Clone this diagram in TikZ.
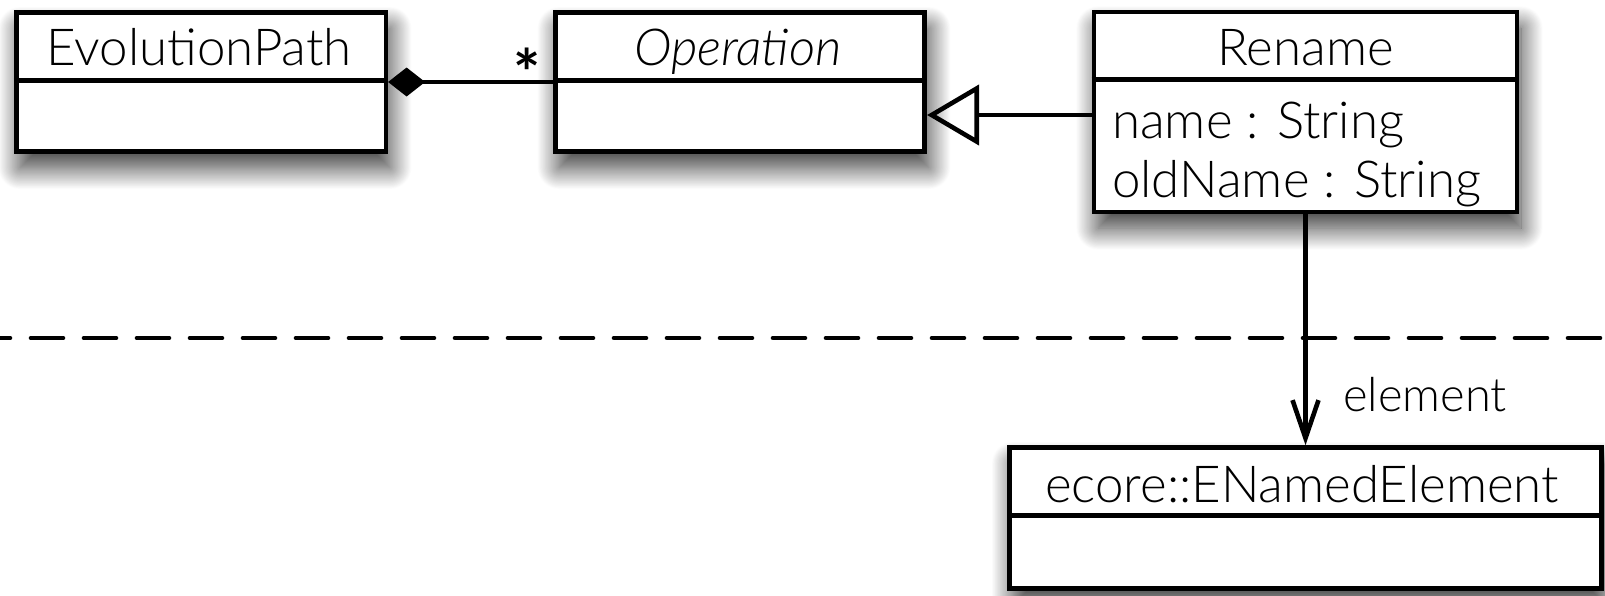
\documentclass[tikz,border=0pt]{standalone}
\usepackage{fontspec}
\IfFontExistsTF{Lato Light}
  {\setmainfont{Lato}[UprightFont={* Light}, ItalicFont={* Light Italic}, BoldFont={* Bold}]}
  {\setmainfont{Lato}}
\usetikzlibrary{arrows.meta,shadows.blur}

\begin{document}
\begin{tikzpicture}[x=1pt,y=-1pt,
  txt/.style={font=\fontsize{51}{60}\selectfont, inner sep=0pt},
  role/.style={font=\fontsize{47}{56}\selectfont, inner sep=0pt},
  cls/.style={draw, line width=4.6pt, fill=white, inner sep=0pt,
    blur shadow={shadow xshift=4pt, shadow yshift=-16pt,
                 shadow blur radius=22pt, shadow blur steps=40,
                 shadow opacity=80}},
  rule/.style={line width=4.6pt},
  conn/.style={line width=4.6pt},
  sep/.style={line width=4.6pt, line cap=round, dash pattern=on 32pt off 21pt, dash phase=22pt}
]
\useasboundingbox (0,0) rectangle (1605,595);

% class boxes
\node[cls, minimum width=369.6pt, minimum height=139pt] (evo) at (201,82) {};
\node[cls, minimum width=369.5pt, minimum height=139pt] (op) at (740,82) {};
\node[cls, minimum width=423pt, minimum height=200pt] (ren) at (1305.5,112) {};
\node[cls, minimum width=592pt, minimum height=141pt] (ecore) at (1305.5,518) {};

% compartment dividers
\foreach \c in {evo,op,ren,ecore}
  \draw[rule] ([yshift=-70pt]\c.north west) -- ([yshift=-70pt]\c.north east);

% class names and attributes
\node[txt, anchor=base] (evoname) at (199,65) {EvolutionPath};
\node[txt, anchor=base] (opname) at (738,65) {\itshape Operation};
\node[txt, anchor=base] (renname) at (1305.5,65) {Rename};
\node[txt, anchor=base west] (attr1) at (1112,138) {name : String};
\node[txt, anchor=base west] (attr2) at (1112,197) {oldName : String};
\node[txt, anchor=base] (ecorename) at (1302,502) {ecore::ENamedElement};

% composition
\draw[conn, {Diamond[length=37pt, width=29pt]}-] (evo.east) -- (op.west);
\node[font=\bfseries\fontsize{64}{70}\selectfont, inner sep=0pt, anchor=base] (mult) at (527,96) {*};

% generalization
\draw[conn, -{Triangle[open, length=52pt, width=60pt]}]
  ([yshift=-3pt]ren.west) -- ([yshift=-3pt]ren.west -| op.east);

% navigable reference
\draw[conn, -{Straight Barb[length=38pt, width=26pt]}] (ren.south) -- (ecore.north);
\node[role, anchor=base] (rolename) at (1425,411) {element};

% package boundary
\coordinate (sepL) at (0,338);
\coordinate (sepR) at (1605,338);
\draw[sep] (sepL) -- (sepR);
\end{tikzpicture}
\end{document}
